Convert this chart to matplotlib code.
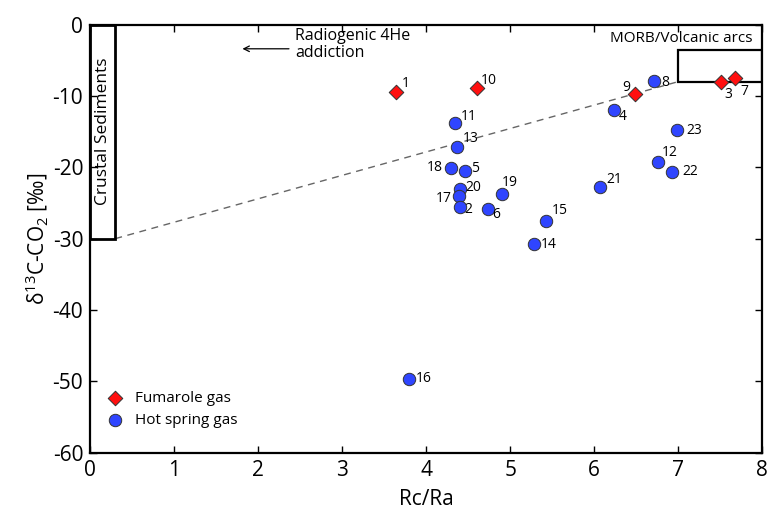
import matplotlib
matplotlib.use("Agg")
import matplotlib.pyplot as plt
from matplotlib.patches import Rectangle

plt.rcParams["font.family"] = ["Open Sans", "DejaVu Sans"]
plt.rcParams["axes.unicode_minus"] = False
plt.rcParams["mathtext.fontset"] = "custom"
plt.rcParams["mathtext.rm"] = "Open Sans"

# Fumarole gas samples
fum_ids = ["1", "10", "9", "3", "7"]
fum_rcra = [3.64, 4.61, 6.49, 7.51, 7.67]
fum_d13c = [-9.5, -8.9, -9.8, -8.1, -7.5]
fum_off = [(10, 9), (11, 8), (-9, 7), (7, -12), (10, -13)]

# Hot spring gas samples
hs_ids = ["8", "4", "11", "13", "23", "12", "22", "18", "5", "20", "17", "2",
          "6", "19", "21", "15", "14", "16"]
hs_rcra = [6.71, 6.23, 4.34, 4.37, 6.98, 6.76, 6.92, 4.29, 4.46, 4.40, 4.39,
           4.40, 4.73, 4.90, 6.07, 5.42, 5.28, 3.79]
hs_d13c = [-7.85, -12.0, -13.8, -17.1, -14.8, -19.3, -20.6, -20.1, -20.5,
           -23.1, -24.0, -25.6, -25.9, -23.8, -22.7, -27.5, -30.8, -49.6]
hs_off = [(11, -2), (9, -6), (14, 7), (13, 8), (18, 0), (12, 10), (19, 0),
          (-16, 0), (10, 2), (14, 2), (-15, -3), (9, -2), (9, -5), (8, 12),
          (14, 7), (14, 10), (15, 0), (15, 0)]

# mixing line end points
mix_x = [0.3, 7.0]
mix_y = [-30, -8]

fig = plt.figure(figsize=(7.7, 5.11), dpi=100)
ax = fig.add_axes([0.117, 0.114, 0.873, 0.838])

ax.plot(mix_x, mix_y, ls=(0, (5, 4)), color="#666666", lw=1, zorder=1)

ax.add_patch(Rectangle((0, -30), 0.3, 30, fill=False, lw=2, ec="black", zorder=2))
ax.add_patch(Rectangle((7, -8), 1.0, 4.5, fill=False, lw=1.6, ec="black", zorder=2))
ax.text(0.15, -15, "Crustal Sediments", rotation=90, ha="center", va="center",
        fontsize=12.5)
ax.text(7.03, -0.9, "MORB/Volcanic arcs", ha="center", va="top", fontsize=11)
ax.text(2.44, -0.5, "Radiogenic 4He\naddiction", ha="left", va="top",
        fontsize=11.5, linespacing=1.05)
ax.annotate("", xy=(1.78, -3.4), xytext=(2.40, -3.4),
            arrowprops=dict(arrowstyle="->", color="black", lw=0.9))

ax.scatter(fum_rcra, fum_d13c, marker="D", s=55, color="#ff1010",
           edgecolor="#333333", linewidth=0.7, zorder=4, label="Fumarole gas")
ax.scatter(hs_rcra, hs_d13c, marker="o", s=80, color="#2f45ff",
           edgecolor="#333333", linewidth=0.7, zorder=3, label="Hot spring gas")

for ids, xs, ys, offs in [(fum_ids, fum_rcra, fum_d13c, fum_off),
                          (hs_ids, hs_rcra, hs_d13c, hs_off)]:
    for t, x, y, (dx, dy) in zip(ids, xs, ys, offs):
        ax.annotate(t, (x, y), xytext=(dx, dy), textcoords="offset pixels",
                    ha="center", va="center", fontsize=10)

ax.set_xlim(0, 8)
ax.set_ylim(-60, 0)
ax.set_xticks(range(0, 9))
ax.set_yticks(range(-60, 1, 10))
ax.tick_params(direction="in", top=True, right=True, length=5, width=1,
               labelsize=15, pad=5)
for s in ax.spines.values():
    s.set_linewidth(1.6)

ax.set_xlabel("Rc/Ra", fontsize=15, labelpad=6)
ax.set_ylabel(r"δ$^{13}$C-CO$_2$ [‰]", fontsize=15, labelpad=2)

ax.legend(loc="lower left", frameon=False, fontsize=11, bbox_to_anchor=(0.007, 0.032),
          handletextpad=0.7, borderaxespad=0.3, labelspacing=0.45, handlelength=1.2)

fig.savefig("out.png", dpi=100)
